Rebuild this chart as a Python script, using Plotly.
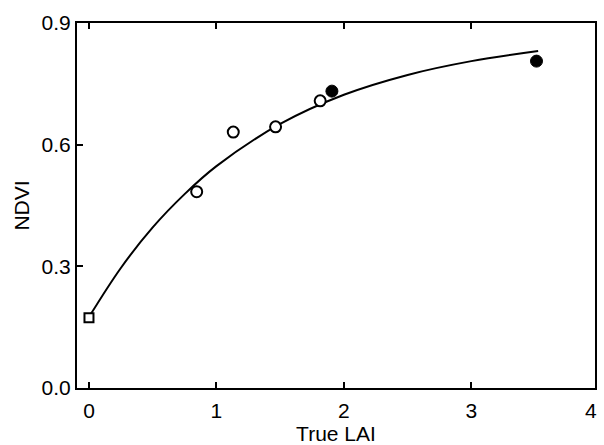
import plotly.graph_objects as go

# Soil background reading
soil_lai = [0.0]
soil_ndvi = [0.173]

# Canopy observations (open circles)
open_lai = [0.845, 1.132, 1.464, 1.814]
open_ndvi = [0.484, 0.631, 0.644, 0.708]

# Canopy observations (filled circles)
filled_lai = [1.906, 3.511]
filled_ndvi = [0.732, 0.806]

# Fitted saturation curve, sampled along its length
curve_lai = [0.0, 0.25, 0.5, 0.75, 1.0, 1.5, 2.0, 2.5, 3.0, 3.524]
curve_ndvi = [0.175, 0.296, 0.396, 0.478, 0.547, 0.651, 0.723, 0.772, 0.806, 0.831]

x_ticks = [0, 1, 2, 3]
y_ticks = [0.0, 0.3, 0.6, 0.9]
y_tick_text = ["0.0", "0.3", "0.6", "0.9"]
x_range = [-0.094, 3.97]

FONT = "Liberation Sans, Arial, sans-serif"

fig = go.Figure()

fig.add_trace(go.Scatter(
    x=curve_lai, y=curve_ndvi, mode="lines",
    line=dict(color="black", width=2, shape="spline", smoothing=1.0),
    hoverinfo="skip", showlegend=False,
))
fig.add_trace(go.Scatter(
    x=soil_lai, y=soil_ndvi, mode="markers",
    marker=dict(symbol="square", size=9, color="white", line=dict(color="black", width=2)),
    showlegend=False, cliponaxis=False,
))
fig.add_trace(go.Scatter(
    x=open_lai, y=open_ndvi, mode="markers",
    marker=dict(symbol="circle", size=11, color="white", line=dict(color="black", width=2)),
    showlegend=False,
))
fig.add_trace(go.Scatter(
    x=filled_lai, y=filled_ndvi, mode="markers",
    marker=dict(symbol="circle", size=12, color="black", line=dict(color="black", width=1)),
    showlegend=False,
))

# the "4" label sits just past the right end of the axis
four_pos = (4 - x_range[0]) / (x_range[1] - x_range[0])

fig.update_layout(
    width=604, height=445,
    margin=dict(l=77, r=9, t=23, b=57),
    paper_bgcolor="white", plot_bgcolor="white",
    font=dict(family=FONT, size=21, color="black"),
    xaxis=dict(
        range=x_range, tickvals=x_ticks, ticks="inside", ticklen=6, tickwidth=1.5,
        tickcolor="black", showline=True, linecolor="black", linewidth=2, mirror="ticks",
        showgrid=False, zeroline=False, automargin=False, ticklabelstandoff=3,
        title=dict(text="True LAI", standoff=8, font=dict(size=21)),
    ),
    yaxis=dict(
        range=[0, 0.9], tickvals=y_ticks, ticktext=y_tick_text, ticks="inside", ticklen=6,
        tickwidth=1.5, tickcolor="black", showline=True, linecolor="black", linewidth=2,
        mirror=True, showgrid=False, zeroline=False, automargin=False,
        title=dict(text="NDVI", standoff=6, font=dict(size=21)),
    ),
    annotations=[dict(
        x=four_pos, y=0, xref="paper", yref="paper", text="4", showarrow=False,
        yanchor="top", yshift=-9, font=dict(family=FONT, size=21, color="black"),
    )],
)

fig.write_html("out.html")
